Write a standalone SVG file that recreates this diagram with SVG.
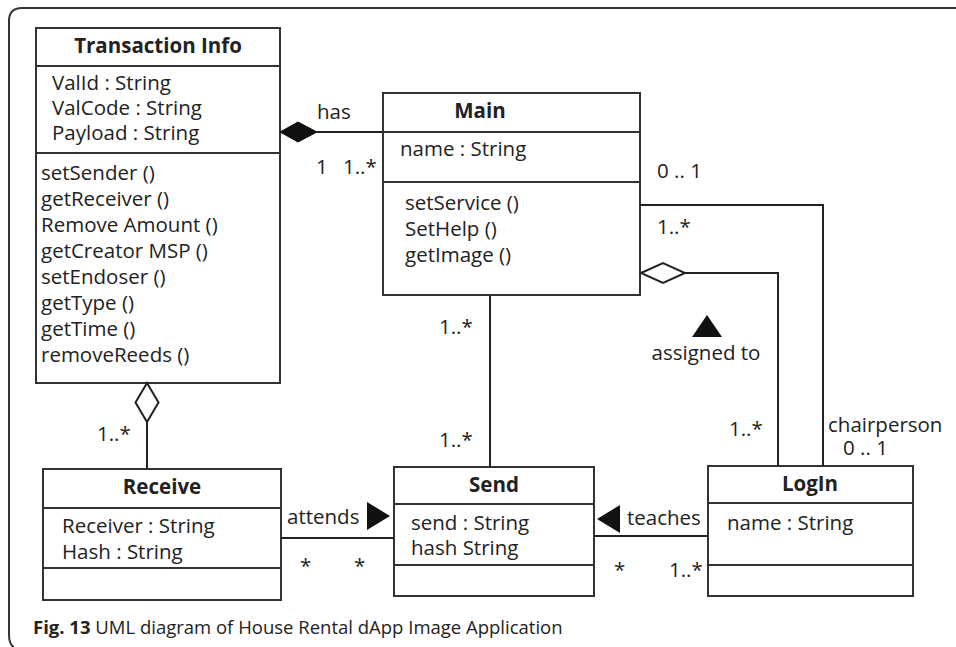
<svg xmlns="http://www.w3.org/2000/svg" width="956" height="647" viewBox="0 0 956 647">
  <style>
    .box { fill: #ffffff; stroke: #333333; stroke-width: 2; }
    .div { stroke: #333333; stroke-width: 2; }
    .ln { fill: none; stroke: #222222; stroke-width: 2; }
    text { font-family: "Open Sans", "Noto Sans", sans-serif; font-size: 20.5px; fill: #222222; }
    .title { font-weight: bold; text-anchor: middle; }
    .cap { font-size: 18.5px; }
  </style>

  <!-- figure frame -->
  <path d="M 956 8 L 22 8 Q 9 8 9 21 L 9 634 Q 9 645 14 647" fill="none" stroke="#333333" stroke-width="2"/>

  <!-- Transaction Info class -->
  <g id="transaction-info">
    <rect class="box" x="36" y="28" width="244" height="355"/>
    <line class="div" x1="36" y1="66" x2="280" y2="66"/>
    <line class="div" x1="36" y1="153" x2="280" y2="153"/>
    <text class="title" x="158" y="53">Transaction Info</text>
    <text x="52" y="90">ValId : String</text>
    <text x="52" y="115">ValCode : String</text>
    <text x="52" y="140">Payload : String</text>
    <text x="41" y="180">setSender ()</text>
    <text x="41" y="206">getReceiver ()</text>
    <text x="41" y="232">Remove Amount ()</text>
    <text x="41" y="258">getCreator MSP ()</text>
    <text x="41" y="284">setEndoser ()</text>
    <text x="41" y="310">getType ()</text>
    <text x="41" y="336">getTime ()</text>
    <text x="41" y="362">removeReeds ()</text>
  </g>

  <!-- Main class -->
  <g id="main">
    <rect class="box" x="383" y="93" width="257" height="202"/>
    <line class="div" x1="383" y1="132" x2="640" y2="132"/>
    <line class="div" x1="383" y1="182" x2="640" y2="182"/>
    <text class="title" x="480" y="118">Main</text>
    <text x="400" y="156">name : String</text>
    <text x="405" y="210">setService ()</text>
    <text x="405" y="236">SetHelp ()</text>
    <text x="405" y="262">getImage ()</text>
  </g>

  <!-- Receive class -->
  <g id="receive">
    <rect class="box" x="43" y="469" width="238" height="131"/>
    <line class="div" x1="43" y1="508" x2="281" y2="508"/>
    <line class="div" x1="43" y1="568" x2="281" y2="568"/>
    <text class="title" x="162" y="494">Receive</text>
    <text x="62" y="533">Receiver : String</text>
    <text x="62" y="559">Hash : String</text>
  </g>

  <!-- Send class -->
  <g id="send">
    <rect class="box" x="394" y="467" width="200" height="129"/>
    <line class="div" x1="394" y1="504" x2="594" y2="504"/>
    <line class="div" x1="394" y1="565" x2="594" y2="565"/>
    <text class="title" x="494" y="492">Send</text>
    <text x="411" y="530">send : String</text>
    <text x="411" y="555">hash String</text>
  </g>

  <!-- LogIn class -->
  <g id="login">
    <rect class="box" x="708" y="466" width="205" height="130"/>
    <line class="div" x1="708" y1="503" x2="913" y2="503"/>
    <line class="div" x1="708" y1="565" x2="913" y2="565"/>
    <text class="title" x="810" y="491">LogIn</text>
    <text x="727" y="530">name : String</text>
  </g>

  <!-- associations -->
  <g id="connectors">
    <!-- Transaction Info has Main (composition) -->
    <line class="ln" x1="317" y1="132" x2="383" y2="132"/>
    <polygon points="280,132 298,122 317,132 298,142" fill="#111111" stroke="#111111" stroke-width="1"/>
    <!-- Transaction Info aggregates Receive -->
    <line class="ln" x1="147" y1="422" x2="147" y2="469"/>
    <polygon points="147,383 158.5,402.5 147,422 135.5,402.5" fill="#ffffff" stroke="#222222" stroke-width="2"/>
    <!-- Main to Send -->
    <line class="ln" x1="490" y1="295" x2="490" y2="467"/>
    <!-- Main chairperson LogIn -->
    <polyline class="ln" points="640,205 823,205 823,466"/>
    <!-- Main aggregates LogIn (assigned to) -->
    <polyline class="ln" points="685,273 778,273 778,466"/>
    <polygon points="641,273 663,263 685,273 663,283" fill="#ffffff" stroke="#222222" stroke-width="2"/>
    <!-- Receive attends Send -->
    <line class="ln" x1="281" y1="538" x2="394" y2="538"/>
    <!-- LogIn teaches Send -->
    <line class="ln" x1="594" y1="536" x2="708" y2="536"/>

    <!-- reading-direction triangles -->
    <polygon points="692,337 707,315 722,337" fill="#111111"/>
    <polygon points="367,502 390,516 367,530" fill="#111111"/>
    <polygon points="620,505 597,519 620,533" fill="#111111"/>

    <!-- labels and multiplicities -->
    <text x="317" y="119">has</text>
    <text x="316" y="174">1</text>
    <text x="343" y="174">1..*</text>
    <text x="97" y="441">1..*</text>
    <text x="439" y="334">1..*</text>
    <text x="439" y="447">1..*</text>
    <text x="657" y="178">0 .. 1</text>
    <text x="657" y="234">1..*</text>
    <text x="706" y="360" text-anchor="middle">assigned to</text>
    <text x="729" y="436">1..*</text>
    <text x="828" y="432">chairperson</text>
    <text x="843" y="455">0 .. 1</text>
    <text x="287" y="524">attends</text>
    <text x="300" y="573">*</text>
    <text x="354" y="573">*</text>
    <text x="627" y="525">teaches</text>
    <text x="614" y="577">*</text>
    <text x="669" y="577">1..*</text>
  </g>

  <!-- figure caption -->
  <text class="cap" x="33" y="634"><tspan font-weight="bold">Fig. 13</tspan> UML diagram of House Rental dApp Image Application</text>
</svg>
